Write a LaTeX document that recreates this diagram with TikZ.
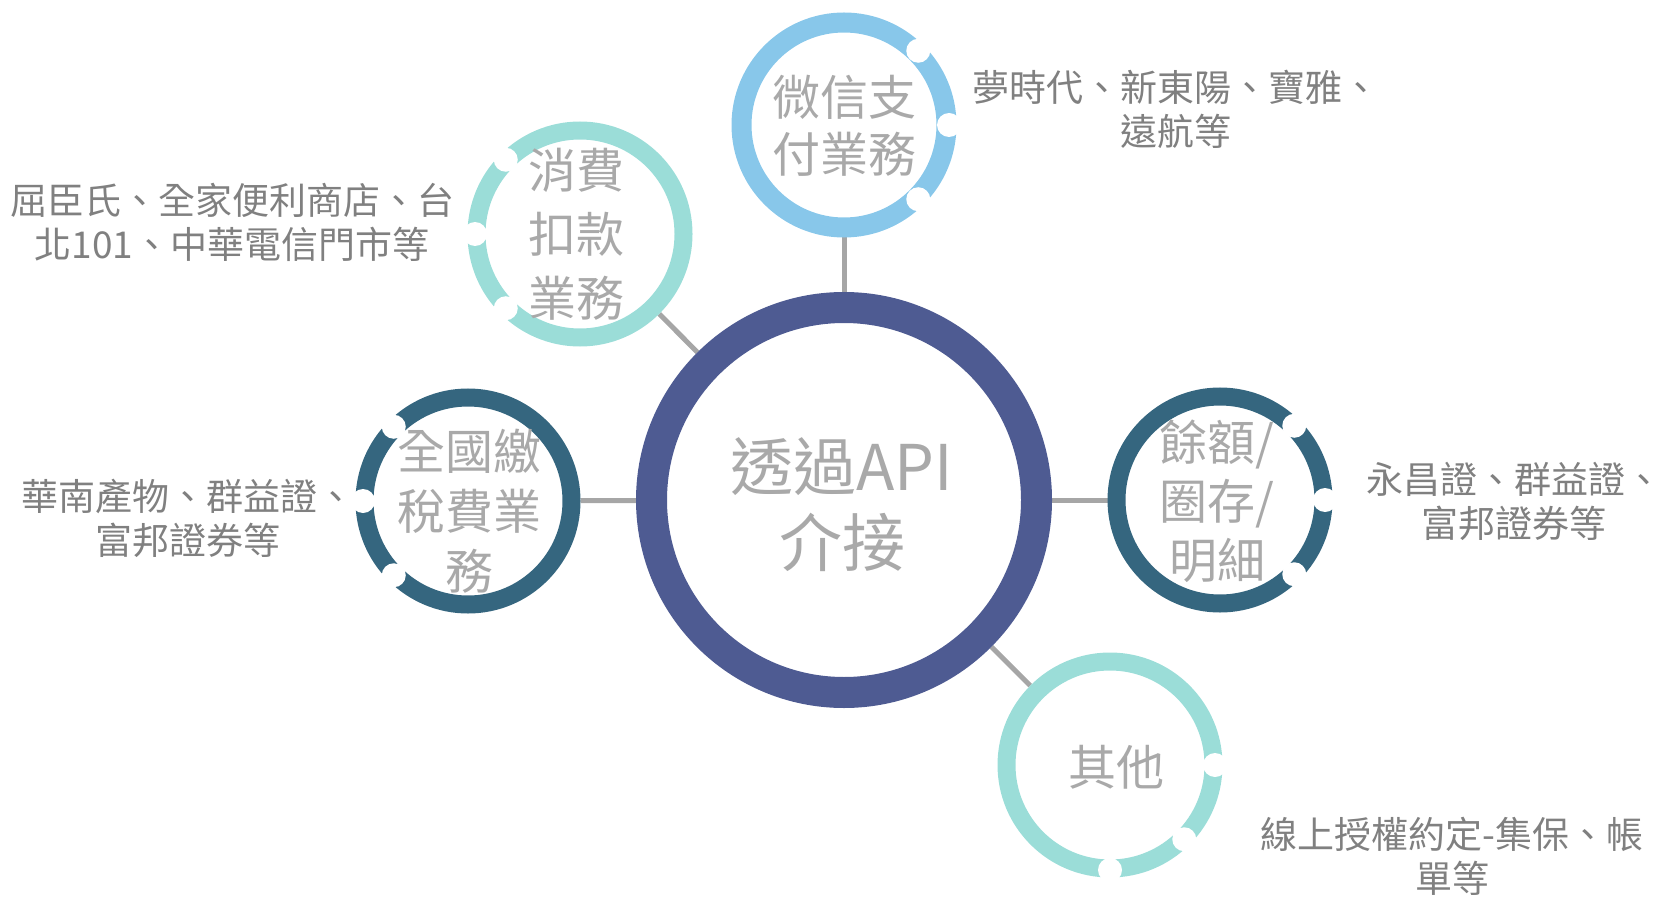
\documentclass[tikz,border=0pt]{standalone}
\usepackage{fontspec}
\setmainfont{Noto Sans CJK TC}
\usetikzlibrary{backgrounds}
\definecolor{hub}{HTML}{4E5B92}
\definecolor{skyb}{HTML}{88C7EA}
\definecolor{mint}{HTML}{9BDDD8}
\definecolor{deept}{HTML}{35667F}
\definecolor{conngray}{HTML}{A6A6A6}
\definecolor{intext}{HTML}{A9A9A9}
\definecolor{sidetext}{HTML}{808080}
\begin{document}
\begin{tikzpicture}[x=1pt,y=-1pt,
  ring/.style={circle, draw=#1, line width=18pt, minimum size=207pt, inner sep=0pt},
  hubring/.style={circle, draw=hub, line width=31pt, minimum size=385pt, inner sep=0pt},
  gapdot/.style={circle, fill=white, minimum size=24pt, inner sep=0pt},
  conn/.style={draw=conngray, line width=5pt},
  bigtxt/.style={align=center, text=intext, font=\fontsize{48}{#1}\selectfont, inner sep=0pt},
  sidetxt/.style={align=center, text=sidetext, font=\fontsize{37}{44}\selectfont, inner sep=0pt},
]
\useasboundingbox (0,0) rectangle (1664,901);
% rings
\node[hubring] (c) at (844,500) {};
\node[ring=skyb, line width=20pt, minimum size=205pt] (w) at (844,125) {};
\node[ring=mint] (x) at (580,234) {};
\node[ring=deept] (q) at (468,501) {};
\node[ring=deept] (y) at (1220,500) {};
\node[ring=mint] (o) at (1110,765) {};
% gap dots
\node[gapdot] (w1) at ([shift={(45:105pt)}]w.center) {};
\node[gapdot] (w2) at ([shift={(0:105pt)}]w.center) {};
\node[gapdot] (w3) at ([shift={(-45:105pt)}]w.center) {};
\node[gapdot] (x1) at ([shift={(135:105pt)}]x.center) {};
\node[gapdot] (x2) at ([shift={(180:105pt)}]x.center) {};
\node[gapdot] (x3) at ([shift={(225:105pt)}]x.center) {};
\node[gapdot] (q1) at ([shift={(135:105pt)}]q.center) {};
\node[gapdot] (q2) at ([shift={(180:105pt)}]q.center) {};
\node[gapdot] (q3) at ([shift={(225:105pt)}]q.center) {};
\node[gapdot] (y1) at ([shift={(45:105pt)}]y.center) {};
\node[gapdot] (y2) at ([shift={(0:105pt)}]y.center) {};
\node[gapdot] (y3) at ([shift={(-45:105pt)}]y.center) {};
\node[gapdot] (o1) at ([shift={(0:105pt)}]o.center) {};
\node[gapdot] (o2) at ([shift={(-45:105pt)}]o.center) {};
\node[gapdot] (o3) at ([shift={(-90:105pt)}]o.center) {};
% connectors
\begin{scope}[on background layer]
\draw[conn] (c) -- (w);
\draw[conn] (c) -- (x);
\draw[conn] (c) -- (q);
\draw[conn] (c) -- (y);
\draw[conn] (c) -- (o);
\end{scope}
% ring texts
\node[align=center, text=intext, font=\fontsize{63}{76}\selectfont, inner sep=0pt] (ct) at (842,505) {透過API\\介接};
\node[bigtxt=57pt] (wt) at (844,126) {微信支\\付業務};
\node[bigtxt=64pt] (xt) at (576,234) {消費\\扣款\\業務};
\node[bigtxt=60pt] (qt) at (469,511) {全國繳\\稅費業\\務};
\node[bigtxt=59pt] (yt) at (1217,501) {餘額/\\圈存/\\明細};
\node[bigtxt=57pt] (ot) at (1116,767) {其他};
% side texts
\node[sidetxt] (ws) at (1176,109) {夢時代、新東陽、寶雅、\\遠航等};
\node[sidetxt] (xs) at (232,222) {屈臣氏、全家便利商店、台\\北101、中華電信門市等};
\node[sidetxt] (qs) at (188,518) {華南產物、群益證、\\富邦證券等};
\node[sidetxt] (ys) at (1514,501) {永昌證、群益證、\\富邦證券等};
\node[sidetxt] (os) at (1452,856) {線上授權約定-集保、帳\\單等};
\end{tikzpicture}
\end{document}
